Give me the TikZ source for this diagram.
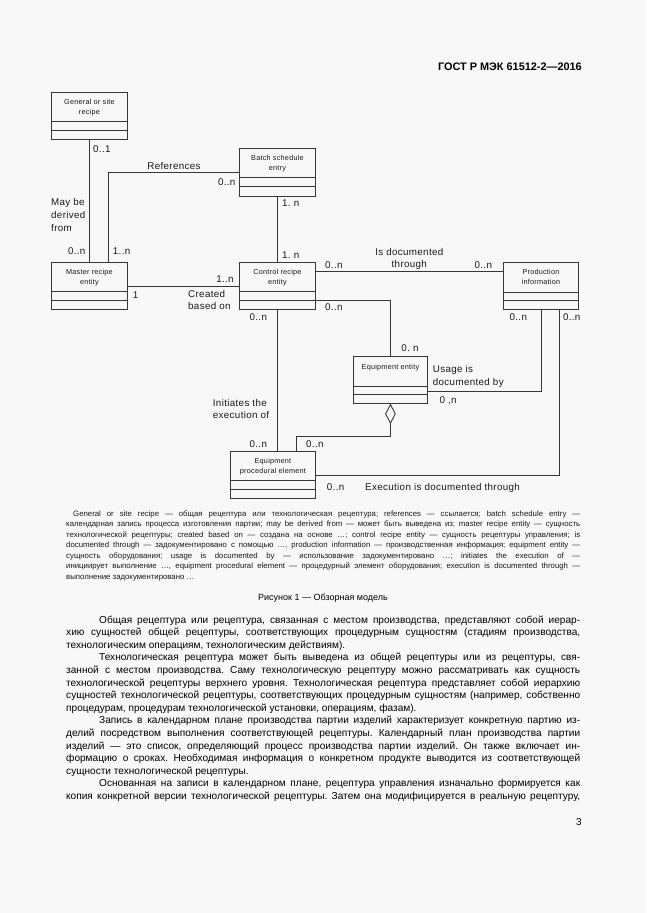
\documentclass[tikz,border=0pt]{standalone}
\usepackage{fontspec}
\setmainfont{Liberation Sans}
\newfontfamily\lblfam[LetterSpace=3.5]{Liberation Sans}
\newfontfamily\ttlfam[LetterSpace=3]{Liberation Sans}
\usetikzlibrary{shapes.geometric}
\definecolor{bgc}{RGB}{248,248,248}
\definecolor{lnc}{RGB}{55,55,55}
\definecolor{txc}{RGB}{25,25,25}
\frenchspacing
\newcommand{\sline}[4]{\node[anchor=base west, inner sep=0pt] at (#1,#2) {\makebox[#3pt][s]{#4}};}
\newcommand{\pline}[3]{\node[anchor=base west, inner sep=0pt] at (#1,#2) {#3};}
\begin{document}
\begin{tikzpicture}[x=1pt,y=-1pt,
  umlbox/.style={draw=lnc, line width=0.9pt, inner sep=0pt, anchor=north west},
  conn/.style={draw=lnc, line width=0.9pt},
  ttl/.style={inner sep=0pt, align=center, anchor=base, text=txc, font=\ttlfam\fontsize{7.3}{10}\selectfont},
  lbl/.style={inner sep=0pt, text=txc, font=\lblfam\fontsize{9.8}{12.5}\selectfont},
  legf/.style={text=txc, font=\fontsize{7.8}{9}\selectfont},
  bodyf/.style={text=black, font=\fontsize{10.1}{12}\selectfont}]
\fill[bgc] (0,0) rectangle (646,913);
\useasboundingbox (0,0) rectangle (646,913);

% header
\node[anchor=base east, inner sep=0pt, font=\bfseries\fontsize{10.9}{12}\selectfont] (hdr) at (582,70.5) {ГОСТ Р МЭК 61512-2—2016};

% boxes
\node[umlbox, minimum width=76pt, minimum height=47pt] (gen) at (51,92) {};
\node[umlbox, minimum width=76pt, minimum height=48pt] (bat) at (239,148) {};
\node[umlbox, minimum width=76pt, minimum height=47pt] (mas) at (51,262) {};
\node[umlbox, minimum width=76pt, minimum height=47pt] (con) at (239,262) {};
\node[umlbox, minimum width=75pt, minimum height=47pt] (pro) at (503,262) {};
\node[umlbox, minimum width=74pt, minimum height=47pt] (eqe) at (353,356) {};
\node[umlbox, minimum width=85pt, minimum height=47pt] (epe) at (230,451) {};

% compartments
\foreach \b/\a/\c in {gen/29/38, bat/29.5/38.5, mas/29/38, con/29/38, pro/30/38, eqe/30/38, epe/29/38}{
  \draw[conn] ([yshift=-\a pt]\b.north west) -- ([yshift=-\a pt]\b.north east);
  \draw[conn] ([yshift=-\c pt]\b.north west) -- ([yshift=-\c pt]\b.north east);
}

% titles (base = baseline of last line)
\node[ttl] at ([yshift=-22.2pt]gen.north) {General or site\\recipe};
\node[ttl] at ([yshift=-22.2pt]bat.north) {Batch schedule\\entry};
\node[ttl] at ([yshift=-22.2pt]mas.north) {Master recipe\\entity};
\node[ttl] at ([yshift=-22.2pt]con.north) {Control recipe\\entity};
\node[ttl] at ([yshift=-22.2pt]pro.north) {Production\\information};
\node[ttl] at ([yshift=-13.2pt]eqe.north) {Equipment entity};
\node[ttl] at ([yshift=-22.2pt]epe.north) {Equipment\\procedural element};

% diamond
\node[draw=lnc, line width=0.9pt, diamond, inner sep=0pt, minimum width=10pt, minimum height=19pt, aspect=0.53, anchor=north, fill=bgc] (dia) at (eqe.south) {};

% connectors
\draw[conn] (gen.south) -- (mas.north);
\draw[conn] ([xshift=19pt]mas.north) |- (bat.west);
\draw[conn] (bat.south) -- (con.north);
\draw[conn] (mas.east) -- (con.west);
\draw[conn] ([yshift=-9pt]con.north east) -- ([yshift=-9pt]con.north east -| pro.west);
\draw[conn] ([yshift=-38pt]con.north east) -| (eqe.north);
\draw[conn] (con.south) -- (con.south |- epe.north);
\draw[conn] (dia.south) -- ++(0,13) -| ([xshift=23.5pt]epe.north);
\draw[conn] (pro.south) |- ([yshift=-35.7pt]eqe.north east);
\draw[conn] ([xshift=18.8pt]pro.south) |- (epe.east);

% labels
\node[lbl, anchor=base west] at (93,152.4) {0..1};
\node[lbl, anchor=base] at (174,169.1) {References};
\node[lbl, anchor=base] at (226.7,185.7) {0..n};
\node[lbl, anchor=base west] at (282,206.7) {1. n};
\node[lbl, anchor=base west, align=left, font=\lblfam\fontsize{9.8}{12.7}\selectfont] at (51,231.1) {May be\\derived\\from};
\node[lbl, anchor=base] at (76.7,254.4) {0..n};
\node[lbl, anchor=base west] at (112.7,254.4) {1..n};
\node[lbl, anchor=base west] at (282,258.7) {1. n};
\node[lbl, anchor=base] at (225,282.4) {1..n};
\node[lbl, anchor=base] at (135.7,298.1) {1};
\node[lbl, anchor=base west, align=left, font=\lblfam\fontsize{9.8}{12.6}\selectfont] at (188,309.7) {Created\\based on};
\node[lbl, anchor=base] at (258.3,320.1) {0..n};
\node[lbl, anchor=base west] at (325,268.4) {0..n};
\node[lbl, anchor=base, align=center, font=\lblfam\fontsize{9.8}{12.3}\selectfont] at (409.3,267.4) {Is documented\\through};
\node[lbl, anchor=base] at (483.3,268.4) {0..n};
\node[lbl, anchor=base west] at (325,310.7) {0..n};
\node[lbl, anchor=base] at (518.3,320.4) {0..n};
\node[lbl, anchor=base] at (571.7,320.4) {0..n};
\node[lbl, anchor=base] at (410,351.1) {0. n};
\node[lbl, anchor=base west, align=left, font=\lblfam\fontsize{9.8}{13.3}\selectfont] at (432.7,385.7) {Usage is\\documented by};
\node[lbl, anchor=base west] at (439.3,403.4) {0 ,n};
\node[lbl, anchor=base west, align=left, font=\lblfam\fontsize{9.8}{12.3}\selectfont] at (212.7,418.4) {Initiates the\\execution of};
\node[lbl, anchor=base] at (258.3,447.4) {0..n};
\node[lbl, anchor=base west] at (306,447.4) {0..n};
\node[lbl, anchor=base west] at (326.7,490.7) {0..n};
\node[lbl, anchor=base west] at (365,490.7) {Execution is documented through};

% legend
\begin{scope}[every node/.style={legf}]
\sline{73}{516.3}{507}{General or site recipe — общая рецептура или технологическая рецептура; references — ссылается; batch schedule entry —}
\sline{66}{526.8}{514}{календарная запись процесса изготовления партии; may be derived from — может быть выведена из; master recipe entity — сущность}
\sline{66}{537.3}{514}{технологической рецептуры; created based on — создана на основе …; control recipe entity — сущность рецептуры управления; is}
\sline{66}{547.8}{514}{documented through — задокументировано с помощью …, production information — производственная информация; equipment entity —}
\sline{66}{558.3}{514}{сущность оборудования; usage is documented by — использование задокументировано …; initiates the execution of —}
\sline{66}{568.8}{514}{инициирует выполнение …, equipment procedural element — процедурный элемент оборудования; execution is documented through —}
\pline{66}{579.3}{выполнение задокументировано …}
\end{scope}

% caption
\node[anchor=base, inner sep=0pt, text=black, font=\fontsize{9}{11}\selectfont] (cap) at (323,600) {Рисунок 1 — Обзорная модель};

% body
\begin{scope}[every node/.style={bodyf}]
\sline{99}{623}{481}{Общая рецептура или рецептура, связанная с местом производства, представляют собой иерар-}
\sline{66}{635.6}{514}{хию сущностей общей рецептуры, соответствующих процедурным сущностям (стадиям производства,}
\pline{66}{648.2}{технологическим операциям, технологическим действиям).}
\sline{99}{660.8}{481}{Технологическая рецептура может быть выведена из общей рецептуры или из рецептуры, свя-}
\sline{66}{673.4}{514}{занной с местом производства. Саму технологическую рецептуру можно рассматривать как сущность}
\sline{66}{686}{514}{технологической рецептуры верхнего уровня. Технологическая рецептура представляет собой иерархию}
\sline{66}{698.6}{514}{сущностей технологической рецептуры, соответствующих процедурным сущностям (например, собственно}
\pline{66}{711.2}{процедурам, процедурам технологической установки, операциям, фазам).}
\sline{99}{723.8}{481}{Запись в календарном плане производства партии изделий характеризует конкретную партию из-}
\sline{66}{736.4}{514}{делий посредством выполнения соответствующей рецептуры. Календарный план производства партии}
\sline{66}{749}{514}{изделий — это список, определяющий процесс производства партии изделий. Он также включает ин-}
\sline{66}{761.6}{514}{формацию о сроках. Необходимая информация о конкретном продукте выводится из соответствующей}
\pline{66}{774.2}{сущности технологической рецептуры.}
\sline{99}{786.8}{481}{Основанная на записи в календарном плане, рецептура управления изначально формируется как}
\sline{66}{799.4}{514}{копия конкретной версии технологической рецептуры. Затем она модифицируется в реальную рецептуру,}
\end{scope}
\node[anchor=base, inner sep=0pt, font=\fontsize{10}{12}\selectfont] (pg) at (579,825.5) {3};
\end{tikzpicture}
\end{document}
